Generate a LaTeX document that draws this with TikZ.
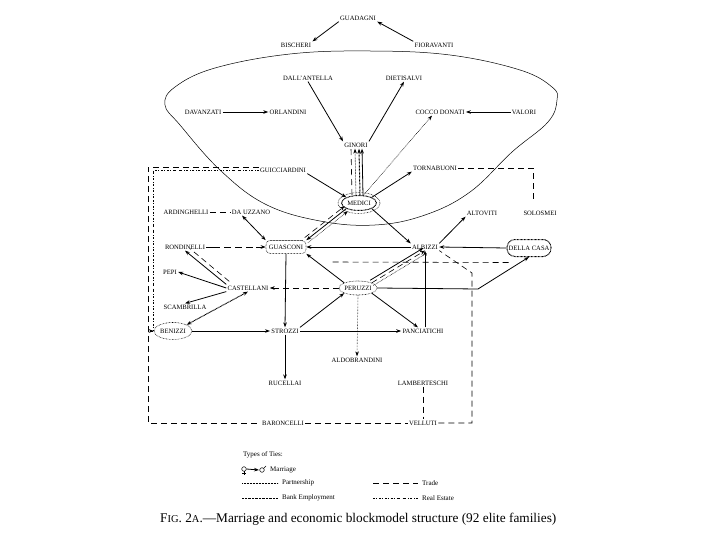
\documentclass[tikz,border=0pt]{standalone}
\usepackage{fontspec}
\setmainfont{Liberation Serif}
\usetikzlibrary{arrows.meta,shapes.geometric,calc}
\begin{document}
\begin{tikzpicture}[x=1pt,y=-1pt,
  fam/.style={font=\fontsize{6.6}{7.5}\selectfont, inner sep=1.2pt},
  marr/.style={line width=0.8pt, -{Stealth[length=5pt,width=3.6pt]}},
  part/.style={line width=0.6pt, dash pattern=on 0.6pt off 0.9pt},
  bank/.style={line width=1pt, dash pattern=on 0.8pt off 0.6pt},
  trade/.style={line width=0.6pt, dash pattern=on 6pt off 4pt},
  realest/.style={line width=0.6pt, dash pattern=on 0.6pt off 0.8pt on 0.6pt off 0.8pt on 0.6pt off 2.5pt},
  tipe/.style={-{Stealth[length=5pt,width=3.6pt]}},
  leg/.style={font=\fontsize{7}{8}\selectfont, anchor=west, inner sep=0pt},
]
\useasboundingbox (0,0) rectangle (720,540);

% balloon
\draw[line width=0.5pt] plot[smooth cycle, tension=0.65] coordinates {
 (370,51) (450,55) (520,70) (552,87) (557,100) (548,122) (512,152) (470,192)
 (425,215) (375,225) (320,221) (265,204) (220,170) (180,125) (165,105) (175,87)
 (215,68) (290,54)};

% nodes
\node[fam] (guadagni) at (358,18) {GUADAGNI};
\node[fam] (bischeri) at (296,45) {BISCHERI};
\node[fam] (fioravanti) at (434,45) {FIORAVANTI};
\node[fam] (dallantella) at (308,78) {DALL'ANTELLA};
\node[fam] (dietisalvi) at (404,78) {DIETISALVI};
\node[fam] (davanzati) at (203,112) {DAVANZATI};
\node[fam] (orlandini) at (288,112) {ORLANDINI};
\node[fam] (cocco) at (440,112) {COCCO DONATI};
\node[fam] (valori) at (524,112) {VALORI};
\node[fam] (ginori) at (356,145) {GINORI};
\node[fam] (guicciardini) at (283,170) {GUICCIARDINI};
\node[fam] (tornabuoni) at (435,168) {TORNABUONI};
\node[fam, ellipse, draw, bank, minimum width=35pt, minimum height=15pt, inner sep=0pt] (medici) at (359,203) {MEDICI};
\draw[part] (medici.center) ellipse (21 and 10.5);
\node[fam] (ardinghelli) at (186,212) {ARDINGHELLI};
\node[fam] (dauzzano) at (251,212) {DA UZZANO};
\node[fam] (altoviti) at (482,213) {ALTOVITI};
\node[fam] (solosmei) at (540,213) {SOLOSMEI};
\node[fam] (rondinelli) at (185,247) {RONDINELLI};
\node[fam, draw, part, rounded corners=4pt, minimum width=40pt, minimum height=13pt] (guasconi) at (286,247) {GUASCONI};
\node[fam] (albizzi) at (425,247) {ALBIZZI};
\node[fam, draw, bank, rounded corners=8pt, minimum width=44pt, minimum height=17pt] (dellacasa) at (529,248) {DELLA CASA};
\node[fam] (pepi) at (170,272) {PEPI};
\node[fam] (castellani) at (248,288) {CASTELLANI};
\node[fam, ellipse, draw, part, minimum width=36pt, minimum height=14pt, inner sep=0pt] (peruzzi) at (358,288) {PERUZZI};
\node[fam] (scambrilla) at (185,307) {SCAMBRILLA};
\node[fam, ellipse, draw, part, minimum width=38pt, minimum height=17pt, inner sep=0pt] (benizzi) at (173,331) {BENIZZI};
\node[fam] (strozzi) at (285,331) {STROZZI};
\node[fam] (panciatichi) at (423,331) {PANCIATICHI};
\node[fam] (aldobrandini) at (357,360) {ALDOBRANDINI};
\node[fam] (rucellai) at (285,383) {RUCELLAI};
\node[fam] (lamberteschi) at (423,383) {LAMBERTESCHI};
\node[fam] (baroncelli) at (283,423) {BARONCELLI};
\node[fam] (velluti) at (423,423) {VELLUTI};

% corner coordinates
\coordinate (tl1) at (148,167);
\coordinate (bl) at (148,423);
\coordinate (tl2) at (153,170);
\coordinate (lb) at (153,331);
\coordinate (br) at (472,423);
\coordinate (rt) at (472,273);
\coordinate (tr) at (533,168);
\coordinate (pd) at (478,289);
\coordinate (dcend) at (330,262);

% top
\draw[marr] (guadagni.south west) -- (bischeri.north east);
\draw[marr] (fioravanti.north west) -- (guadagni.south east);
\draw[marr] (davanzati.east) -- (orlandini.west);
\draw[marr] (valori.west) -- (cocco.east);
\draw[marr] (dallantella.south) -- (ginori.north west);
\draw[marr] (ginori.north east) -- (dietisalvi.south);
\draw[part, tipe] (medici.60) -- ([xshift=-8pt]cocco.south);

% Medici - Ginori
\draw[trade] ([xshift=-7pt]medici.north) -- ([xshift=-5pt]ginori.south);
\draw[part, tipe] ([xshift=-3pt]medici.north) -- ([xshift=-1pt]ginori.south);
\draw[bank, tipe] ([xshift=1pt]medici.north) -- ([xshift=3pt]ginori.south);
\draw[marr] ([xshift=4pt]medici.north) -- ([xshift=6pt]ginori.south);

\draw[marr] (guicciardini.south east) -- (medici.north west);
\draw[marr] (medici.north east) -- (tornabuoni.south west);
\draw[marr] (medici.south east) -- (albizzi.north west);

% Medici - Guasconi
\draw[trade, tipe] ([shift={(-1.6,-2.6)}]guasconi.north east) -- ([shift={(-1.6,-2.6)}]medici.south west);
\draw[marr] (medici.south west) -- (guasconi.north east);
\draw[part, tipe] ([shift={(1.6,2.6)}]guasconi.north east) -- ([shift={(1.6,2.6)}]medici.south west);

\draw[trade] (ardinghelli.east) -- (dauzzano.west);
\draw[marr, {Stealth[length=5pt,width=3.6pt]}-{Stealth[length=5pt,width=3.6pt]}] ([xshift=-9pt]dauzzano.south) -- (guasconi.north west);
\draw[marr, dash pattern=on 14pt off 4pt on 7pt off 4pt on 7pt off 4pt on 7pt off 3pt] (rondinelli.east) -- (guasconi.west);
\draw[marr] (albizzi.west) -- (guasconi.east);
\draw[marr] (dellacasa.west) -- (albizzi.east);
\draw[marr] (albizzi.north east) -- (altoviti.south west);

% Peruzzi ties
\draw[marr] (peruzzi.north west) -- (guasconi.south east);
\draw[marr] ([shift={(-1.6,-2.6)}]peruzzi.north east) -- ([shift={(-1.6,-2.6)}]albizzi.south);
\draw[trade, tipe] (peruzzi.north east) -- (albizzi.south);
\draw[part] ([shift={(1.6,2.6)}]peruzzi.north east) -- ([shift={(1.6,2.6)}]albizzi.south);
\draw[marr] (albizzi.south |- panciatichi.north) -- (albizzi.south);
\draw[trade, tipe] (peruzzi.west) -- (castellani.east);
\draw[marr] (peruzzi.east) -- (pd) -- (dellacasa.south);
\draw[part, tipe] (peruzzi.south) -- (aldobrandini.north);
\draw[marr] (peruzzi.south east) -- ([xshift=-5pt]panciatichi.north);
\draw[marr] (strozzi.north east) -- (peruzzi.south west);

% Guasconi / Strozzi
\draw[marr] (guasconi.south) -- (strozzi.north);
\draw[marr] (strozzi.east) -- (panciatichi.west);
\draw[marr] (strozzi.south) -- (rucellai.north);
\draw[marr] (benizzi.east) -- (strozzi.west);

% Castellani
\draw[marr] (castellani.west) -- (pepi.east);
\draw[marr] (castellani.south west) -- (scambrilla.north);
\draw[bank, {Stealth[length=5pt,width=3.6pt]}-{Stealth[length=5pt,width=3.6pt]}] (castellani.south) -- (benizzi.north east);
\draw[marr] (castellani.north west) -- (rondinelli.south);
\draw[trade] ([shift={(3,-3)}]castellani.north west) -- ([shift={(5,-2)}]rondinelli.south);

% trade / real estate frame
\draw[trade] (guicciardini.west |- tl1) -- (tl1) -- (bl) -- (baroncelli.west);
\draw[trade] (baroncelli.east) -- (velluti.west);
\draw[trade] (velluti.east) -- (br) -- (rt) -- (albizzi.south east);
\draw[realest] (guicciardini.west) -- (tl2) -- (lb);
\draw[realest, tipe] (lb) -- (benizzi.west);
\draw[trade] (tornabuoni.east) -- (tr) -- ([yshift=8pt]tr |- solosmei.north);
\draw[trade] ([xshift=2pt,yshift=-5.5pt]dellacasa.south west) -- (dcend);
\draw[trade] (lamberteschi.south) -- (velluti.north);

% legend
\node[leg] (types) at (243,455) {Types of Ties:};
\coordinate (fm) at (244,469);
\draw[line width=0.5pt] (fm) circle (2.3);
\draw[line width=0.5pt] ($(fm)+(0,2.3)$) -- ($(fm)+(0,6)$) ($(fm)+(-1.8,4.3)$) -- ($(fm)+(1.8,4.3)$);
\coordinate (ma) at (262,470);
\draw[marr] ($(fm)+(2.5,0)$) -- ($(ma)+(-3,0)$);
\draw[line width=0.5pt] (ma) circle (2.3);
\draw[line width=0.5pt] ($(ma)+(1.6,-1.6)$) -- ($(ma)+(4,-4)$);
\node[leg] (lmarr) at (270,470) {Marriage};
\coordinate (p1) at (242,483);
\draw[part] (p1) -- ++(36,0);
\node[leg] (lpart) at (282,483) {Partnership};
\coordinate (t1) at (373,483);
\draw[trade, line width=0.4pt] (t1) -- ++(45,0);
\node[leg] (ltrade) at (422,483) {Trade};
\coordinate (b1) at (242,498);
\draw[bank] (b1) -- ++(36,0);
\node[leg] (lbank) at (282,498) {Bank Employment};
\coordinate (r1) at (373,498);
\draw[realest] (r1) -- ++(45,0);
\node[leg] (lreal) at (422,498) {Real Estate};

\node[anchor=west, inner sep=0pt, font=\fontsize{13.3}{15}\selectfont] (caption) at (160,519)
 {F{\fontsize{10.5}{11}\selectfont IG}. 2{\fontsize{10.5}{11}\selectfont A}.—Marriage and economic blockmodel structure (92 elite families)};
\end{tikzpicture}
\end{document}
